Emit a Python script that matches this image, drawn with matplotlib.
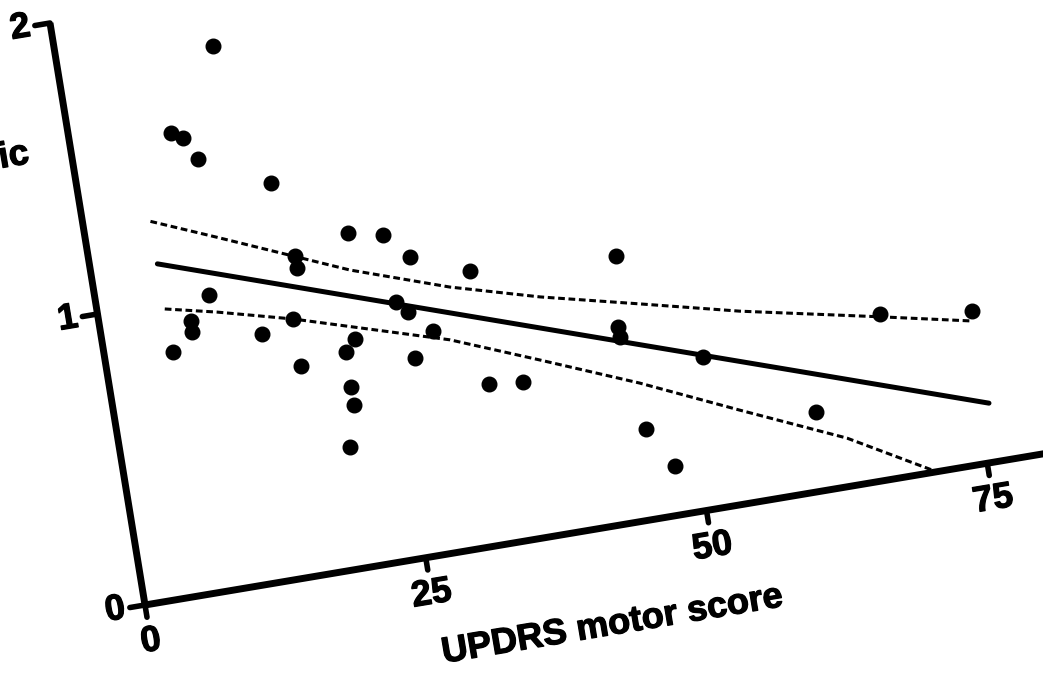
import matplotlib
matplotlib.use('Agg')
import matplotlib.pyplot as plt
import matplotlib.patheffects as pe
from matplotlib.transforms import Affine2D

updrs = [8.9, 9.9, 10.9, 13.8, 16.9, 22.9, 25.9, 27.9, 17.9, 17.9, 9.9, 26.0, 26.9,
         16.9, 8.0, 7.9, 14.0, 28.8, 22.0, 6.0, 21.0, 26.9, 16.9, 20.9, 20.9, 20.0,
         32.9, 45.8, 44.9, 45.0, 51.9, 32.9, 35.9, 45.9, 47.9, 67.8, 75.8, 60.9]
ratio = [1.564, 1.540, 1.462, 1.831, 1.340, 1.130, 1.104, 1.015, 1.083, 1.042, 1.001,
         0.873, 0.832, 0.873, 0.924, 0.887, 0.841, 0.754, 0.771, 0.830, 0.733, 0.674,
         0.712, 0.613, 0.551, 0.413, 0.934, 0.902, 0.664, 0.629, 0.515, 0.545, 0.533,
         0.307, 0.167, 0.560, 0.518, 0.268]

fit_x = [5.9, 76.0]
fit_y = [1.134, 0.200]

upper_x = [5.9, 11.4, 22.5, 30.9, 38.6, 47.2, 55.7, 67.8, 75.5]
upper_y = [1.28, 1.19, 1.005, 0.892, 0.808, 0.728, 0.648, 0.55, 0.486]
lower_x = [5.9, 10.4, 16.9, 30.2, 37.7, 46.0, 54.3, 63.2, 70.5]
lower_y = [0.979, 0.939, 0.873, 0.715, 0.597, 0.464, 0.317, 0.163, 0.0]

xticks = [0, 25, 50, 75]
yticks = [0, 1, 2]
xlabel = 'UPDRS motor score'
ylabel_part = 'ric'

W, H = 1043, 673
fig = plt.figure(figsize=(W / 100, H / 100), dpi=100)
ax = fig.add_axes([0, 0, 1, 1])
ax.set_xlim(0, W)
ax.set_ylim(H, 0)
ax.axis('off')

# the scan is tilted ~9.5 deg; map data -> pixel with an affine
tr = Affine2D().from_values(11.23, -1.89, -47.5, -291.0, 145, 605) + ax.transData
ang = 9.5
heavy = [pe.withStroke(linewidth=0.9, foreground='black')]
fnt = dict(family='Liberation Sans', weight='bold', size=26, path_effects=heavy)

# axes
ax.plot([0, 0], [0, 2], color='black', lw=5, transform=tr, solid_capstyle='butt')
ax.plot([0, 82], [0, 0], color='black', lw=5, transform=tr, solid_capstyle='butt')
for t in xticks:
    ax.plot([t, t], [0, -0.042], color='black', lw=4, transform=tr, solid_capstyle='round')
    ax.text(t, -0.125, str(t), transform=tr, rotation=ang, rotation_mode='anchor',
            ha='center', va='center', **fnt)
for t in yticks:
    ax.plot([0, -1.35], [t, t], color='black', lw=4, transform=tr, solid_capstyle='round')
    ax.text(-2.65, t, str(t), transform=tr, rotation=ang, rotation_mode='anchor',
            ha='center', va='center', **fnt)

ax.text(40.2, -0.33, xlabel, transform=tr, rotation=ang, rotation_mode='anchor',
        ha='center', va='center', **fnt)
ax.text(-3.7, 1.575, ylabel_part, transform=tr, rotation=ang, rotation_mode='anchor',
        ha='right', va='center', **fnt)

# regression + confidence band
ax.plot(fit_x, fit_y, color='black', lw=3.6, transform=tr, solid_capstyle='round')
ax.plot(upper_x, upper_y, color='black', lw=2.2, ls=(0, (2.2, 1.2)), transform=tr)
ax.plot(lower_x, lower_y, color='black', lw=2.2, ls=(0, (2.2, 1.2)), transform=tr)

ax.plot(updrs, ratio, 'o', color='black', ms=10.5, transform=tr)

fig.savefig('out.png', dpi=100)
